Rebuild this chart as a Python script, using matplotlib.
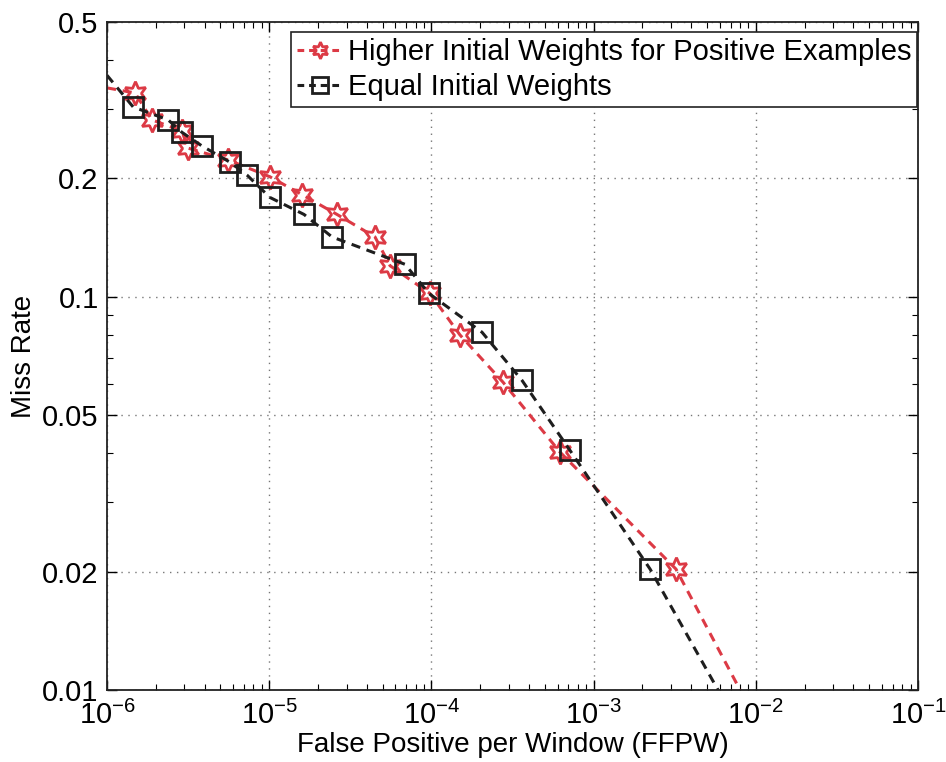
#Plotting Libraries
import matplotlib
matplotlib.use("Agg")
import matplotlib.pyplot as plt
from matplotlib.ticker import FixedLocator, FixedFormatter, LogLocator, NullFormatter

plt.rcParams['font.family'] = ['Liberation Sans', 'DejaVu Sans']
plt.rcParams['mathtext.default'] = 'regular'

#Data (marker points)
ffpw_higher = [1.49e-6, 1.89e-6, 2.9e-6, 3.15e-6, 5.57e-6, 1.01e-5, 1.59e-5, 2.62e-5,
               4.49e-5, 5.56e-5, 9.8e-5, 1.5e-4, 2.76e-4, 6.2e-4, 3.22e-3]
miss_higher = [0.330, 0.282, 0.264, 0.239, 0.223, 0.202, 0.182, 0.162,
               0.142, 0.120, 0.102, 0.080, 0.0607, 0.0403, 0.0203]
ffpw_equal = [1.45e-6, 2.38e-6, 2.9e-6, 3.85e-6, 5.73e-6, 7.3e-6, 1.01e-5, 1.64e-5,
              2.44e-5, 6.87e-5, 9.66e-5, 2.05e-4, 3.62e-4, 7.15e-4, 2.23e-3]
miss_equal = [0.304, 0.282, 0.262, 0.242, 0.220, 0.204, 0.179, 0.162,
              0.142, 0.121, 0.102, 0.0813, 0.0613, 0.0407, 0.0203]

#Where the curves enter and leave the axes (no marker there)
higher_ends = [(1e-6, 0.34), (8.0e-3, 0.01)]
equal_ends = [(1e-6, 0.366), (5.85e-3, 0.01)]

legend_labels = ['Higher Initial Weights for Positive Examples', 'Equal Initial Weights']
ytick_vals = [0.01, 0.02, 0.05, 0.1, 0.2, 0.5]
ytick_labels = ['0.01', '0.02', '0.05', '0.1', '0.2', '0.5']

red = '#dc3a45'
black = '#1e1e1e'

fig = plt.figure(figsize=(9.46, 7.62), dpi=100)
ax = fig.add_axes([0.1131, 0.0945, 0.8573, 0.8766])

def full_curve(xs, ys, ends):
    x = [ends[0][0]] + list(xs) + [ends[1][0]]
    y = [ends[0][1]] + list(ys) + [ends[1][1]]
    return x, y

xh, yh = full_curve(ffpw_higher, miss_higher, higher_ends)
xe, ye = full_curve(ffpw_equal, miss_equal, equal_ends)

ax.plot(xh, yh, linestyle=(0, (3, 2.2)), color=red, lw=2.2,
        marker=(6, 1, 0), ms=17, mfc='none', mec=red, mew=2.0,
        markevery=list(range(1, len(xh) - 1)), label=legend_labels[0])
ax.plot(xe, ye, linestyle=(0, (3, 2.2)), color=black, lw=2.2,
        marker='s', ms=14, mfc='none', mec=black, mew=2.0,
        markevery=list(range(1, len(xe) - 1)), label=legend_labels[1])

ax.set_xscale('log')
ax.set_yscale('log')
ax.set_xlim(1e-6, 1e-1)
ax.set_ylim(0.01, 0.5)

ax.xaxis.set_major_locator(LogLocator(base=10, numticks=10))
ax.xaxis.set_minor_locator(LogLocator(base=10, subs=range(2, 10), numticks=20))
ax.xaxis.set_minor_formatter(NullFormatter())
ax.yaxis.set_major_locator(FixedLocator(ytick_vals))
ax.yaxis.set_major_formatter(FixedFormatter(ytick_labels))
ax.yaxis.set_minor_locator(LogLocator(base=10, subs=range(2, 10), numticks=20))
ax.yaxis.set_minor_formatter(NullFormatter())

ax.tick_params(which='both', direction='in', top=True, right=True)
ax.tick_params(which='major', length=7, width=1.0)
ax.tick_params(which='minor', length=4, width=0.8)
ax.tick_params(axis='x', which='major', pad=8, labelsize=21)
ax.tick_params(axis='y', which='major', pad=6, labelsize=21)

ax.grid(True, which='major', linestyle=(0, (1, 4)), color='#777777', lw=1.0)

for s in ax.spines.values():
    s.set_linewidth(1.3)
    s.set_color('#222222')

ax.set_xlabel('False Positive per Window (FFPW)', fontsize=20, labelpad=1)
ax.set_ylabel('Miss Rate', fontsize=20, labelpad=4)

leg = ax.legend(loc='upper right', bbox_to_anchor=(0.9988, 0.985), fontsize=21,
                fancybox=False, framealpha=1, edgecolor='#222222',
                handlelength=1.6, handletextpad=0.15, borderpad=0.2,
                labelspacing=0.25, borderaxespad=0)
leg.get_frame().set_linewidth(1.2)
for h in leg.legend_handles:
    h.set_markersize(12)
    h.set_linestyle((0, (2.2, 1.6)))

fig.savefig('out.png', dpi=100)
